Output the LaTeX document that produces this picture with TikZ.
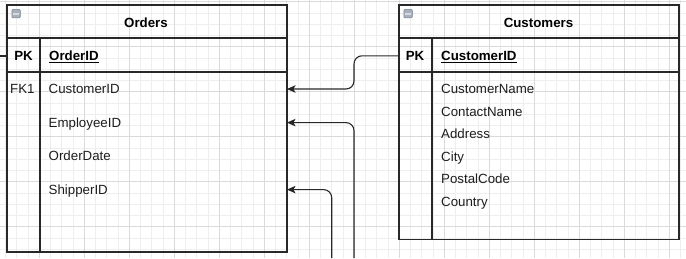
\documentclass[tikz,border=0pt]{standalone}
\usepackage{fontspec}
\setmainfont{Liberation Sans}
\usetikzlibrary{arrows.meta}
\definecolor{gridminor}{RGB}{238,238,238}
\definecolor{gridmajor}{RGB}{218,218,218}
\definecolor{linec}{RGB}{40,40,40}
\definecolor{txtc}{RGB}{30,30,30}
\definecolor{iconfill}{RGB}{168,176,188}
\definecolor{iconline}{RGB}{120,128,140}
\definecolor{iconbar}{RGB}{214,218,224}
\begin{document}
\begin{tikzpicture}[x=1pt,y=-1pt,
  gminor/.style={draw=gridminor, line width=0.7pt},
  gmajor/.style={draw=gridmajor, line width=0.8pt},
  tbl/.style={draw=linec, line width=1.1pt, anchor=north west, inner sep=0pt, outer sep=0pt},
  sepline/.style={draw=linec, line width=1.1pt},
  ttl/.style={font=\fontsize{13.3}{15}\selectfont\bfseries, anchor=base, inner sep=0pt, text=black},
  keyl/.style={font=\fontsize{13.3}{15}\selectfont\bfseries, anchor=base, inner sep=0pt, text=black, text height=9.4pt, text depth=0pt},
  fkl/.style={font=\fontsize{13.3}{15}\selectfont, anchor=base west, inner sep=0pt, text=txtc, text height=9.4pt, text depth=0pt},
  fld/.style={font=\fontsize{13.3}{15}\selectfont, anchor=base west, inner sep=0pt, text=txtc, text height=9.4pt, text depth=0pt},
  pkfld/.style={font=\fontsize{13.3}{15}\selectfont\bfseries, anchor=base west, inner sep=0pt, text=black, text height=9.4pt, text depth=0pt},
  conn/.style={draw=linec, line width=1.1pt, rounded corners=8pt},
  tipend/.style={-{Stealth[length=8.5pt,width=7.5pt,inset=2pt]}},
  iconbox/.style={draw=iconline, fill=iconfill, line width=0.5pt, minimum size=8.5pt, inner sep=0pt, rounded corners=1pt}
]
\useasboundingbox (0,0) rectangle (686,258);
\fill[white] (0,0) rectangle (686,258);
\begin{scope}
\clip (0,0) rectangle (686,258);
\foreach \i in {0,...,61} {\draw[gminor] ({5.55+11.25*\i},0) -- ++(0,258);}
\foreach \j in {0,...,23} {\draw[gminor] (0,{1.7+11.25*\j}) -- ++(686,0);}
\foreach \i in {0,...,16} {\draw[gmajor] ({-5.7+45*\i},0) -- ++(0,258);}
\foreach \j in {0,...,6} {\draw[gmajor] (0,{1.7+45*\j}) -- ++(686,0);}
\end{scope}

% ---------- Orders table ----------
\node[tbl, minimum width=280pt, minimum height=247pt] (ord) at (7,5) {};
\draw[sepline] (7,38) -- (287,38);
\draw[sepline] (7,72) -- (287,72);
\draw[sepline] (40,38) -- (40,252);
\node[iconbox] (oicon) at (16,13.7) {};
\draw[iconbar, line width=1.6pt] ([xshift=1.5pt]oicon.west) -- ([xshift=-1.5pt]oicon.east);
\node[ttl] (otitle) at (146,27.3) {Orders};
\node[keyl] (opk) at (23.5,60.7) {PK};
\node[pkfld] (oid) at (49,60.7) {\underline{OrderID}};
\node[fkl] (ofk) at (10,93.7) {FK1};
\node[fld] (ocid) at (48.5,93.7) {CustomerID};
\node[fld] (oemp) at (48.5,127.3) {EmployeeID};
\node[fld] (odate) at (48.5,160.7) {OrderDate};
\node[fld] (oship) at (48.5,194.3) {ShipperID};

% ---------- Customers table ----------
\node[tbl, minimum width=280pt, minimum height=234.5pt] (cust) at (399,5) {};
\draw[sepline] (399,38) -- (679,38);
\draw[sepline] (399,72) -- (679,72);
\draw[sepline] (432,38) -- (432,239.5);
\node[iconbox] (cicon) at (408,13.7) {};
\draw[iconbar, line width=1.6pt] ([xshift=1.5pt]cicon.west) -- ([xshift=-1.5pt]cicon.east);
\node[ttl] (ctitle) at (538.5,27.3) {Customers};
\node[keyl] (cpk) at (415,60.5) {PK};
\node[pkfld] (cid) at (441,60.5) {\underline{CustomerID}};
\node[fld] (cname) at (441,93.7) {CustomerName};
\node[fld] (ccontact) at (441,116.2) {ContactName};
\node[fld] (caddr) at (441,138.7) {Address};
\node[fld] (ccity) at (441,161.2) {City};
\node[fld] (cpostal) at (441,183.7) {PostalCode};
\node[fld] (ccountry) at (441,206.2) {Country};

% ---------- connectors ----------
\coordinate (bendA) at (354,0);
\coordinate (empEnd) at (354,258);
\coordinate (shipEnd) at (331.7,258);
\coordinate (pkIn) at (0,56);
\draw[conn, tipend] (cust.west |- cpk) -| (bendA |- ocid) -- (ord.east |- ocid);
\draw[conn, tipend] (empEnd) |- (ord.east |- oemp);
\draw[conn, tipend] (shipEnd) |- (ord.east |- oship);
\draw[conn] (pkIn) -- (ord.west |- opk);
\end{tikzpicture}
\end{document}
